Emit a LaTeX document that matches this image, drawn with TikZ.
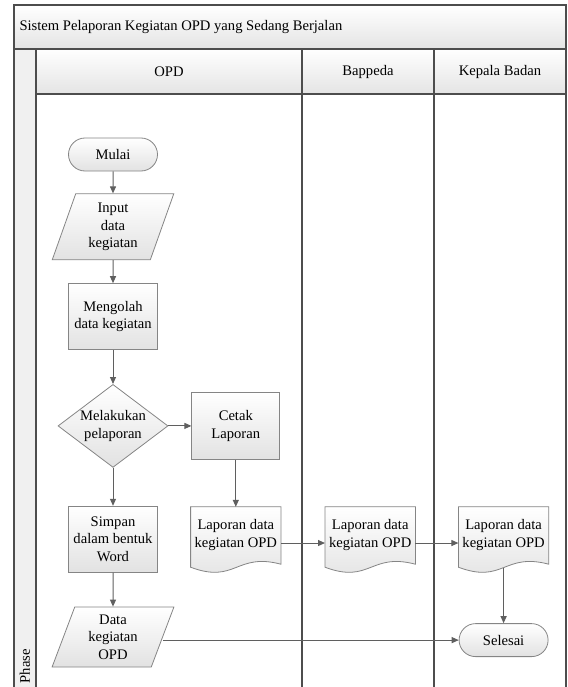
\documentclass[tikz,border=0pt]{standalone}
\usepackage{fontspec}
\setmainfont{Liberation Serif}
\usetikzlibrary{shapes.geometric, arrows.meta, positioning, calc, backgrounds}

\definecolor{framegray}{HTML}{4D4D4D}
\definecolor{linegray}{HTML}{5F5F5F}
\definecolor{shapegray}{HTML}{858585}
\definecolor{fillgray}{HTML}{E2E2E2}
\definecolor{headgray}{HTML}{E4E4E4}
\definecolor{phasegray}{HTML}{F0F0F0}

\begin{document}
\begin{tikzpicture}[
        x=1bp, y=-1bp,
        font=\fontsize{14.6bp}{17.5bp}\selectfont,
        % common look of the flowchart shapes
        flowbase/.style={draw=shapegray, line width=0.8bp, top color=white, bottom color=fillgray, align=center, inner sep=2bp},
        terminal/.style={flowbase, rectangle, rounded corners=16.5bp, minimum width=89bp, minimum height=33bp},
        process/.style={flowbase, rectangle, minimum width=89bp, minimum height=66bp},
        decision/.style={flowbase, diamond, aspect=1.33, minimum width=110bp, minimum height=83bp, inner sep=0pt},
        io/.style={flowbase, trapezium, trapezium left angle=72, trapezium right angle=108, trapezium stretches=true, minimum width=122bp, minimum height=66bp},
        docbox/.style={align=center, minimum width=90bp, minimum height=56bp, inner sep=0pt},
        % connectors
        arrow/.style={-{Triangle[length=7bp, width=6bp]}, draw=linegray, line width=1bp},
        lane/.style={draw=framegray, line width=1.2bp}
    ]

    \useasboundingbox (0,0) rectangle (568,687);
    \clip (0,0) rectangle (568,687);

    % --- THE SWIMLANE FRAME ---
    \fill[phasegray] (14,49) rectangle (36,687);
    \draw[lane, top color=white, bottom color=headgray] (14,5) rectangle (566,49);
    \foreach \xa/\xb in {36/302, 302/434, 434/566}
        \draw[lane, top color=white, bottom color=headgray] (\xa,49) rectangle (\xb,94);
    \foreach \xv in {14, 36, 302, 434, 566}
        \draw[lane] (\xv,49) -- (\xv,690);

    \node (judul) [anchor=west] at (16,27) {Sistem Pelaporan Kegiatan OPD yang Sedang Berjalan};
    \node (lopd) at (169,72) {OPD};
    \node (lbappeda) at (368,72) {Bappeda};
    \node (lkepala) at (500,72) {Kepala Badan};
    \node (phase) [rotate=90, anchor=east, inner sep=1bp] at (25,648) {Phase};

    % --- THE SHAPES ---
    \node (mulai) [terminal] at (113,154.5) {Mulai};
    \node (input) [io, below=22bp of mulai] {Input\\data\\kegiatan};
    \node (olah) [process, below=23bp of input] {Mengolah\\data kegiatan};
    \node (lapor) [decision, below=34bp of olah] {Melakukan\\pelaporan};
    \node (cetak) [process, right=23bp of lapor, minimum width=88bp, minimum height=67bp] {Cetak\\Laporan};
    \node (simpan) [process, below=38bp of lapor] {Simpan\\dalam bentuk\\Word};
    \node (data) [io, below=34bp of simpan, minimum height=60bp] {Data\\kegiatan\\OPD};
    \node (doc1) [docbox, below=47bp of cetak] {Laporan data\\kegiatan OPD};
    \node (doc2) [docbox, right=44bp of doc1] {Laporan data\\kegiatan OPD};
    \node (doc3) [docbox, right=43bp of doc2] {Laporan data\\kegiatan OPD};
    \node (selesai) [terminal, below=60bp of doc3] {Selesai};

    % document outlines with the wavy bottom
    \begin{scope}[on background layer]
        \foreach \d in {doc1, doc2, doc3}
            \draw[draw=shapegray, line width=0.8bp, top color=white, bottom color=fillgray]
                (\d.north west) -- (\d.north east) -- ([yshift=-1bp]\d.south east)
                .. controls ($(\d.south)+(0,11bp)$) and ($(\d.south)+(0,-21bp)$) .. ([yshift=-4bp]\d.south west) -- cycle;
    \end{scope}

    % --- THE ARROWS ---
    \draw [arrow] (mulai) -- (input);
    \draw [arrow] (input) -- (olah);
    \draw [arrow] (olah) -- (lapor);
    \draw [arrow] (lapor) -- (cetak);
    \draw [arrow] (lapor) -- (simpan);
    \draw [arrow] (simpan) -- (data);
    \draw [arrow] (cetak) -- (doc1);
    \draw [arrow] ([yshift=-8bp]doc1.east) -- ([yshift=-8bp]doc2.west);
    \draw [arrow] ([yshift=-8bp]doc2.east) -- ([yshift=-8bp]doc3.west);
    \draw [arrow] ([yshift=-5bp]doc3.south) -- (selesai);
    \draw [arrow] (data.east |- selesai.west) -- (selesai.west);

\end{tikzpicture}
\end{document}
